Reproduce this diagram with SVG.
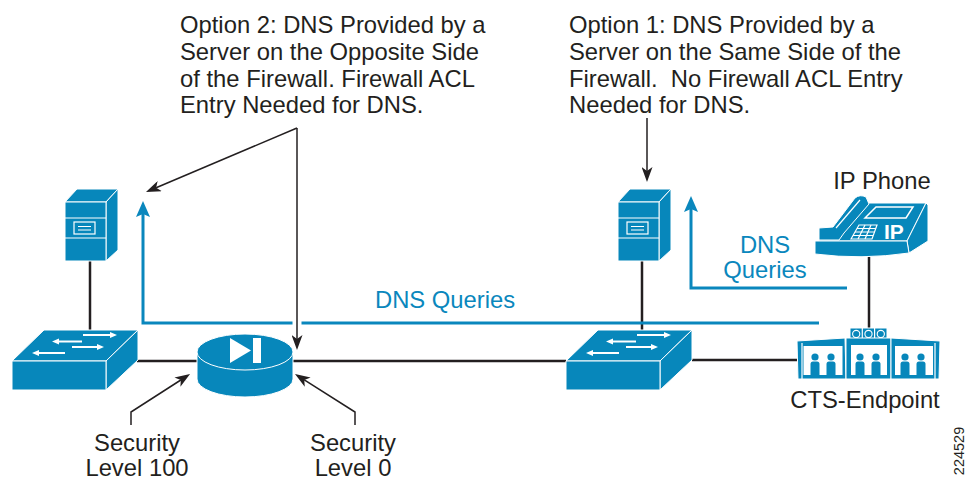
<svg xmlns="http://www.w3.org/2000/svg" xmlns:xlink="http://www.w3.org/1999/xlink" width="967" height="480" viewBox="0 0 967 480">
  <style>
    .ic { fill: #0787bb; stroke: #ffffff; stroke-width: 1; stroke-linejoin: round; }
    .wl { fill: none; stroke: #ffffff; stroke-width: 1.2; }
    .wf { fill: #ffffff; stroke: none; }
    .txt { font-family: "Liberation Sans", Arial, Helvetica, sans-serif; font-size: 23.8px; fill: #231f20; }
    .blue { fill: #0a87bd; }
    .link { fill: none; stroke: #231f20; stroke-width: 2.5; }
    .ptr { fill: none; stroke: #231f20; stroke-width: 1.5; marker-end: url(#ah); }
    .dns { fill: none; stroke: #0a87bd; stroke-width: 3; marker-end: url(#bh); }
  </style>
  <defs>
    <marker id="ah" viewBox="0 0 15 11" refX="4" refY="5.5" markerWidth="15" markerHeight="11" markerUnits="userSpaceOnUse" orient="auto">
      <path d="M0,0 L15,5.5 L0,11 L4,5.5 Z" fill="#231f20"/>
    </marker>
    <marker id="bh" viewBox="0 0 16 14" refX="3" refY="7" markerWidth="16" markerHeight="14" markerUnits="userSpaceOnUse" orient="auto">
      <path d="M0,0 L16,7 L0,14 L3,7 Z" fill="#0a87bd"/>
    </marker>

    <!-- tower server -->
    <g id="server">
      <path class="ic" d="M65,202 L77,189 L118,189 L106,202 Z"/>
      <path class="ic" d="M106,202 L118,189 L118,250 L106,261 Z"/>
      <rect class="ic" x="65" y="202" width="41" height="59"/>
      <path class="wl" d="M65,218 H106 M65,238 H106"/>
      <rect x="74" y="222" width="21" height="12" fill="none" stroke="#fff" stroke-width="1.2"/>
      <path class="wl" d="M78,226.5 H91 M78,230 H91"/>
    </g>

    <!-- workgroup switch -->
    <g id="switch">
      <path class="ic" d="M12,361 L44,330 L138,330 L106,361 Z"/>
      <path class="ic" d="M106,361 L138,330 L138,360 L106,390 Z"/>
      <rect class="ic" x="12" y="361" width="94" height="29"/>
      <g stroke="#fff" stroke-width="1.8" fill="none">
        <path d="M83,335 H111 M82,341.5 H58 M72,347 H98 M65,353 H38"/>
      </g>
      <g class="wf">
        <path d="M110,332 L117,335 L110,338 Z"/>
        <path d="M59,338.5 L52,341.5 L59,344.5 Z"/>
        <path d="M97,344 L104,347 L97,350 Z"/>
        <path d="M39,350 L32,353 L39,356 Z"/>
      </g>
    </g>
  </defs>

  <!-- connectors -->
  <g id="connectors">
    <!-- physical links -->
    <path class="link" d="M90,261 V330"/>
    <path class="link" d="M137,361 H197"/>
    <path class="link" d="M293,361 H566"/>
    <path class="link" d="M642,261 V331"/>
    <path class="link" d="M692,360 H797"/>
    <path class="link" d="M869,257 V328"/>

    <!-- DNS query paths -->
    <path class="dns" d="M819,323 H143 V214"/>
    <path class="dns" d="M847,288 H691 V209"/>
    <path d="M297,316 V330" stroke="#ffffff" stroke-width="9" fill="none"/>

    <!-- callout pointers -->
    <path class="ptr" d="M297,128 L156.1,187.7"/>
    <path class="ptr" d="M297,128 V339"/>
    <path class="ptr" d="M647,118 V171"/>
    <path class="ptr" d="M131,425 V412 L180.8,380"/>
    <path class="ptr" d="M355,425 V412 L304.3,379.9"/>
  </g>

  <!-- nodes -->
  <g id="dns-server-inside">
    <use xlink:href="#server"/>
  </g>
  <g id="switch-inside">
    <use xlink:href="#switch"/>
  </g>
  <g id="firewall">
    <path class="ic" d="M197,352 V379 A48,18 0 0 0 293,379 V352 Z"/>
    <ellipse class="ic" cx="245" cy="352" rx="48" ry="18"/>
    <path class="wf" d="M230,338 L251,350.5 L230,363 Z"/>
    <rect class="wf" x="253" y="338" width="8" height="25"/>
  </g>
  <g id="dns-server-outside">
    <use xlink:href="#server" transform="translate(553,0)"/>
  </g>
  <g id="switch-outside">
    <use xlink:href="#switch" transform="translate(554,0)"/>
  </g>

  <g id="ip-phone">
    <path class="ic" d="M818,241 L866,203 L926,203 L907,241 Z"/>
    <path class="ic" d="M907,241 L926,203 L928,205 L928,241 L909,253 Z"/>
    <path class="ic" d="M815,241 L907,241 L909,253 Q862,260 815,254 Z"/>
    <!-- handset -->
    <path class="ic" d="M819,240 L819,228 L833,227 L855,198 Q860,194 866,197 L869,204 L844,233 L839,240 Z"/>
    <path class="wl" d="M836,228 L860,200" stroke-width="1"/>
    <!-- display -->
    <path d="M865,218 L876,207 L913,207 L906,218 Z" fill="#0787bb" stroke="#fff" stroke-width="1.5"/>
    <!-- keypad -->
    <g class="wl" stroke-width="1">
      <path d="M851,239 L859,225 H877 L872,239 Z"/>
      <path d="M853,235.5 H873 M855,232 H874.5 M857,228.5 H876"/>
      <path d="M858,239 L865,225 M865,239 L871,225"/>
    </g>
    <text x="884" y="239" font-family="Liberation Sans, Arial, sans-serif" font-size="21" font-weight="bold" fill="#ffffff">IP</text>
  </g>

  <g id="cts-endpoint">
    <!-- camera bar -->
    <path class="wl" d="M843,338 H893"/>
    <rect class="ic" x="850" y="328" width="37" height="12"/>
    <path class="wl" d="M862.3,328 V340 M874.6,328 V340"/>
    <g fill="none" stroke="#fff" stroke-width="1.1">
      <circle cx="856.2" cy="334" r="3.6"/>
      <circle cx="868.5" cy="334" r="3.6"/>
      <circle cx="880.8" cy="334" r="3.6"/>
    </g>
    <!-- three displays -->
    <path class="ic" d="M797,341 L845,338 L846,379 L798,379 Z"/>
    <path class="ic" d="M846,338 H891 V379 H846 Z"/>
    <path class="ic" d="M891,338 L940,341 L939,379 L891,379 Z"/>
    <path class="wl" d="M802,343 V379 M935,343 V379"/>
    <rect x="803.5" y="346" width="39" height="29" fill="#fff"/>
    <rect x="851" y="345" width="36" height="30" fill="#fff"/>
    <rect x="895" y="346" width="38" height="29" fill="#fff"/>
    <g fill="#0787bb">
      <circle cx="815" cy="357" r="3.6"/>
      <circle cx="831" cy="357" r="3.6"/>
      <circle cx="860" cy="357" r="3.6"/>
      <circle cx="876" cy="357" r="3.6"/>
      <circle cx="905" cy="357" r="3.6"/>
      <circle cx="921" cy="357" r="3.6"/>
      <path d="M810.5,375 V364 Q810.5,361.5 813,361.5 H817 Q819.5,361.5 819.5,364 V375 Z"/>
      <path d="M826.5,375 V364 Q826.5,361.5 829,361.5 H833 Q835.5,361.5 835.5,364 V375 Z"/>
      <path d="M855.5,375 V364 Q855.5,361.5 858,361.5 H862 Q864.5,361.5 864.5,364 V375 Z"/>
      <path d="M871.5,375 V364 Q871.5,361.5 874,361.5 H878 Q880.5,361.5 880.5,364 V375 Z"/>
      <path d="M900.5,375 V364 Q900.5,361.5 903,361.5 H907 Q909.5,361.5 909.5,364 V375 Z"/>
      <path d="M916.5,375 V364 Q916.5,361.5 919,361.5 H923 Q925.5,361.5 925.5,364 V375 Z"/>
    </g>
  </g>

  <!-- labels -->
  <g id="labels" class="txt">
    <text x="180" y="33">Option 2: DNS Provided by a</text>
    <text x="180" y="60">Server on the Opposite Side</text>
    <text x="180" y="87">of the Firewall. Firewall ACL</text>
    <text x="180" y="113">Entry Needed for DNS.</text>

    <text x="569" y="33">Option 1: DNS Provided by a</text>
    <text x="569" y="60">Server on the Same Side of the</text>
    <text x="569" y="87" xml:space="preserve">Firewall.  No Firewall ACL Entry</text>
    <text x="569" y="113">Needed for DNS.</text>

    <text x="882" y="189" text-anchor="middle">IP Phone</text>
    <text x="865" y="408" text-anchor="middle">CTS-Endpoint</text>

    <text x="137" y="451" text-anchor="middle">Security</text>
    <text x="137" y="476" text-anchor="middle">Level 100</text>
    <text x="353" y="451" text-anchor="middle">Security</text>
    <text x="353" y="476" text-anchor="middle">Level 0</text>

    <text class="blue" x="375" y="308">DNS Queries</text>
    <text class="blue" x="765" y="253" text-anchor="middle">DNS</text>
    <text class="blue" x="765" y="278" text-anchor="middle">Queries</text>

    <text transform="translate(964,451) rotate(-90)" text-anchor="middle" font-size="14.5">224529</text>
  </g>
</svg>
